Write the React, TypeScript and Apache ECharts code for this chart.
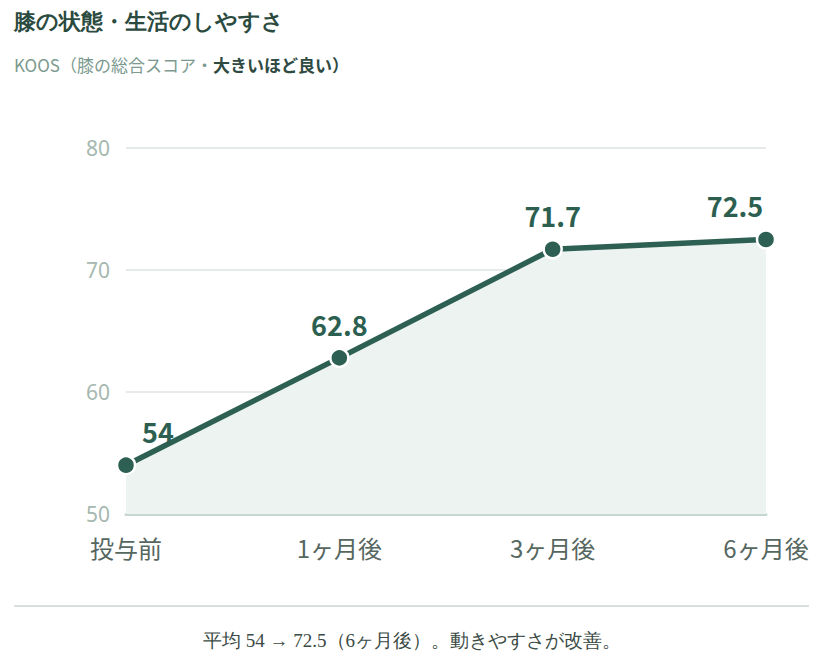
import React, { useEffect, useRef } from "react";
import * as echarts from "echarts";

const categories = ["投与前", "1ヶ月後", "3ヶ月後", "6ヶ月後"];
const koosValues = [54, 62.8, 71.7, 72.5];
const labelOffsets = [[32, 0], [0, 0], [0, 0], [-31, 0]];
const titleText = "膝の状態・生活のしやすさ";
const footerText = "平均 54 → 72.5（6ヶ月後）。動きやすさが改善。";

const SANS = "'Noto Sans CJK JP', 'Noto Sans', sans-serif";
const SERIF = "'Liberation Serif', serif";

export default function App() {
  const ref = useRef<HTMLDivElement>(null);
  useEffect(() => {
    if (!ref.current) return;
    const chart = echarts.init(ref.current, null, { renderer: "svg" });
    chart.setOption({
      animation: false,
      backgroundColor: "#ffffff",
      title: [
        {
          text: titleText,
          left: 14,
          top: 10,
          padding: 0,
          textStyle: { fontFamily: SERIF, fontSize: 22, fontWeight: "bold", color: "#2b4a40" },
        },
        {
          text: "{a|KOOS（膝の総合スコア・}{b|大きいほど良い）}",
          left: 14,
          top: 56,
          padding: 0,
          textStyle: {
            fontWeight: "normal",
            rich: {
              a: { fontFamily: SANS, fontSize: 17, fontWeight: "normal", color: "#7c9a8f" },
              b: { fontFamily: SANS, fontSize: 17, fontWeight: "bold", color: "#2f4a42" },
            },
          },
        },
      ],
      grid: { left: 126, right: 63, top: 148, bottom: 150 },
      xAxis: {
        type: "category",
        data: categories,
        boundaryGap: false,
        axisLine: { show: true, lineStyle: { color: "#c9d7d1", width: 3 } },
        axisTick: { show: false },
        axisLabel: { fontFamily: SANS, fontSize: 24, color: "#56675f", margin: 21 },
      },
      yAxis: {
        type: "value",
        min: 50,
        max: 80,
        interval: 10,
        axisLine: { show: false },
        axisTick: { show: false },
        axisLabel: { fontFamily: "'Noto Sans', sans-serif", fontSize: 21, color: "#a6b8b0", margin: 16 },
        splitLine: { lineStyle: { color: "#e6ebe9", width: 2 } },
      },
      series: [
        {
          type: "line",
          data: koosValues.map((v, i) => ({
            value: v,
            label: { offset: labelOffsets[i] },
          })),
          symbol: "circle",
          symbolSize: 18,
          lineStyle: { color: "#2d6052", width: 5.5 },
          itemStyle: { color: "#2d6052", borderColor: "#ffffff", borderWidth: 2.5 },
          areaStyle: { color: "#edf3f0", opacity: 1 },
          label: {
            show: true,
            position: "top",
            distance: 10,
            fontFamily: SANS,
            fontSize: 27,
            fontWeight: "bold",
            color: "#2d5f51",
          },
          z: 3,
        },
      ],
      graphic: [
        {
          type: "line",
          shape: { x1: 14, y1: 606, x2: 809, y2: 606 },
          style: { stroke: "#d6e0dc", lineWidth: 2 },
        },
        {
          type: "text",
          x: 412,
          y: 640,
          style: {
            text: footerText,
            fontFamily: SERIF,
            fontSize: 19,
            fill: "#3a4a44",
            align: "center",
            verticalAlign: "middle",
          },
        },
      ],
    });
    return () => chart.dispose();
  }, []);
  return (
    <div
      ref={ref}
      style={{ position: "fixed", left: 0, top: 0, width: 829, height: 664 }}
    />
  );
}
